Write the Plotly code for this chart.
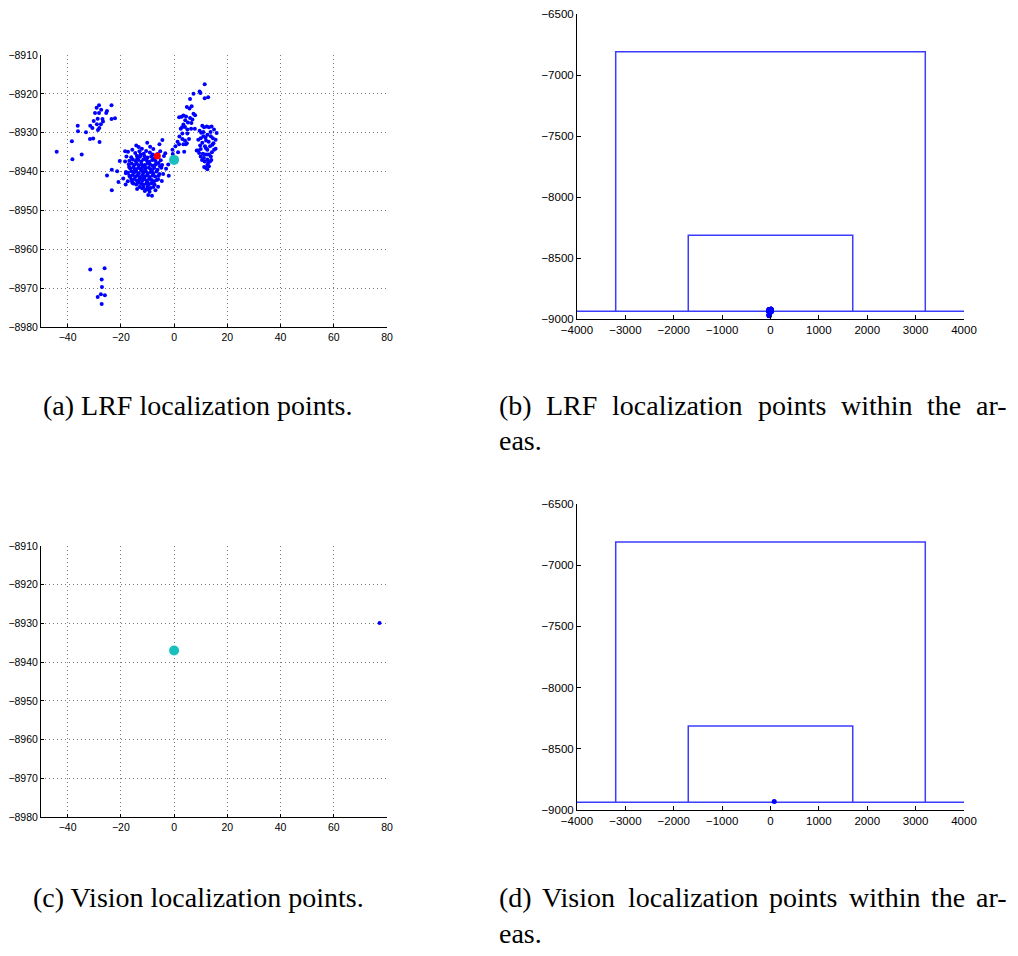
import plotly.graph_objects as go

W, H = 1018, 956
OFF = 8  # page body margin of the browser

# ---------------- data ----------------
# LRF localization points (x, y)
lrf_left = [(-44.1, -8934.9), (-38.4, -8932.2), (-38.2, -8936.8), (-36.2, -8928.2), (-36.1, -8929.6),
            (-34.7, -8935.6), (-33.1, -8929.9), (-31.5, -8928.2), (-31.6, -8931.6), (-30.4, -8931.5),
            (-30.7, -8928.8), (-30.2, -8927.0), (-29.7, -8924.9), (-29.1, -8923.6), (-28.2, -8922.9),
            (-28.7, -8926.4), (-29.0, -8927.8), (-28.1, -8928.8), (-28.2, -8924.9), (-27.4, -8924.1),
            (-26.9, -8926.5), (-26.7, -8927.1), (-27.5, -8927.8), (-28.0, -8932.4), (-25.5, -8924.9),
            (-25.2, -8924.4), (-23.5, -8922.9), (-23.5, -8926.5), (-22.2, -8926.3), (-28.6, -8929.3)]
lrf_bottom = [(-31.5, -8965.2), (-26.1, -8964.9), (-27.2, -8967.8), (-27.1, -8969.7),
              (-28.7, -8972.3), (-27.5, -8971.6), (-26.0, -8971.8), (-27.2, -8974.1)]
lrf_scatter = [(-25.2, -8941.0), (-23.4, -8939.5), (-23.4, -8944.8), (-21.4, -8939.9), (-20.9, -8942.7),
               (-20.4, -8937.3), (-18.4, -8934.8), (-18.1, -8940.4), (-18.2, -8943.3)]
lrf_center = [(-17.3, -8934.9), (-15.7, -8934.4), (-14.2, -8933.3), (-13.3, -8933.7), (-12.1, -8934.1),
              (-10.1, -8932.6), (-9.0, -8933.6), (-7.8, -8934.2), (-5.5, -8933.0), (-4.4, -8931.9),
              (-6.2, -8935.5), (-5.0, -8937.1), (-3.8, -8936.0), (-2.2, -8938.2), (-3.0, -8939.3),
              (-2.0, -8941.1), (-4.1, -8940.6), (-4.6, -8942.4), (-6.5, -8942.2), (-6.0, -8943.9),
              (-7.0, -8944.8), (-8.3, -8946.2), (-9.7, -8946.0), (-10.5, -8944.6), (-12.0, -8944.3),
              (-13.9, -8944.5), (-15.2, -8943.1), (-17.4, -8942.5), (-18.1, -8940.1), (-16.9, -8938.8),
              (-18.4, -8937.4), (-19.1, -8941.8), (-16.5, -8941.4), (-17.9, -8936.1),
              (-14.6, -8935.2), (-13.0, -8934.8), (-11.4, -8935.4), (-10.5, -8934.7), (-9.1, -8935.1),
              (-8.0, -8935.6), (-16.1, -8936.3), (-14.0, -8935.9), (-12.8, -8936.2), (-11.2, -8936.0),
              (-10.0, -8936.4), (-8.6, -8936.1), (-7.4, -8936.6), (-6.8, -8935.9),
              (-16.8, -8937.2), (-15.5, -8936.9), (-14.5, -8937.3), (-13.5, -8937.0), (-12.4, -8937.4),
              (-11.5, -8936.9), (-10.2, -8937.2), (-9.3, -8937.5), (-8.2, -8937.0), (-7.0, -8937.3),
              (-5.8, -8937.8), (-17.0, -8938.1), (-16.0, -8937.9), (-15.0, -8938.3), (-14.0, -8938.0),
              (-13.2, -8938.4), (-12.2, -8938.1), (-11.0, -8938.3), (-10.0, -8937.9), (-9.0, -8938.2),
              (-8.0, -8938.5), (-6.5, -8938.0), (-5.3, -8938.6), (-16.5, -8939.2), (-15.3, -8938.9),
              (-14.5, -8939.4), (-13.5, -8939.1), (-12.5, -8939.3), (-11.8, -8938.8), (-10.8, -8939.2),
              (-9.5, -8939.0), (-8.7, -8939.4), (-7.5, -8939.1), (-6.2, -8939.5), (-4.8, -8939.0),
              (-17.3, -8940.3), (-16.0, -8939.9), (-15.0, -8940.2), (-14.2, -8940.0), (-13.3, -8940.4),
              (-12.4, -8939.8), (-11.5, -8940.2), (-10.6, -8940.0), (-9.8, -8940.4), (-8.8, -8940.1),
              (-7.8, -8940.5), (-6.6, -8940.0), (-5.5, -8940.6), (-16.8, -8941.1), (-15.5, -8940.9),
              (-14.5, -8941.3), (-13.8, -8941.0), (-12.8, -8941.4), (-11.9, -8940.9), (-11.0, -8941.2),
              (-10.1, -8941.0), (-9.1, -8941.4), (-8.0, -8941.0), (-7.1, -8941.3), (-5.8, -8941.1),
              (-16.0, -8942.1), (-15.0, -8941.9), (-14.0, -8942.3), (-13.0, -8942.0), (-12.0, -8942.4),
              (-11.2, -8942.0), (-10.3, -8942.3), (-9.4, -8941.9), (-8.4, -8942.2), (-7.5, -8942.5),
              (-6.0, -8942.0), (-15.5, -8943.0), (-14.2, -8943.3), (-13.2, -8942.9), (-12.3, -8943.2),
              (-11.4, -8943.4), (-10.4, -8943.0), (-9.5, -8943.3), (-8.5, -8943.0), (-7.3, -8943.4),
              (-13.0, -8944.0), (-11.6, -8944.1), (-10.0, -8943.9), (-8.8, -8944.2), (-7.8, -8944.0),
              (-11.0, -8945.0), (-9.2, -8945.2), (-13.8, -8936.6), (-12.0, -8939.7), (-10.9, -8938.8),
              (-9.9, -8942.8), (-11.7, -8941.7), (-13.6, -8942.7), (-14.8, -8939.7), (-8.3, -8939.8),
              (-10.4, -8936.6), (-12.6, -8935.6), (-9.6, -8944.6), (-15.8, -8942.6), (-7.2, -8938.3),
              (-4.5, -8938.3), (-3.3, -8935.3), (-5.2, -8934.8)]
lrf_right_upper = [(11.5, -8917.5), (9.6, -8919.4), (9.9, -8919.8), (7.3, -8920.0), (12.8, -8920.9),
                   (11.5, -8921.1), (6.0, -8921.3), (4.8, -8923.4), (5.8, -8923.8), (6.6, -8923.2),
                   (7.3, -8925.1), (7.9, -8925.5), (1.9, -8926.0), (3.5, -8925.6), (4.5, -8925.8),
                   (6.0, -8926.2), (6.9, -8926.6), (3.5, -8927.9), (4.1, -8928.5), (5.0, -8929.2),
                   (6.4, -8929.0), (7.8, -8929.0), (3.1, -8930.2), (5.0, -8930.2), (5.6, -8931.6),
                   (3.1, -8931.6), (4.1, -8932.0), (4.8, -8932.7), (1.3, -8932.3), (3.5, -8933.0),
                   (4.4, -8933.0), (3.8, -8934.9), (1.9, -8933.0), (-0.6, -8934.4), (2.5, -8929.0),
                   (3.0, -8928.6), (2.0, -8931.0), (6.5, -8927.5), (4.2, -8926.8), (2.8, -8925.9),
                   (5.2, -8927.4), (1.5, -8935.0), (-0.5, -8935.5), (0.5, -8933.5)]
lrf_right_lower = [(10.6, -8928.2), (11.3, -8928.6), (12.3, -8928.4), (13.1, -8928.6), (14.1, -8928.4),
                   (15.0, -8929.2), (16.0, -8930.1), (15.6, -8931.8), (14.6, -8931.4), (13.8, -8930.9),
                   (12.5, -8930.5), (11.0, -8930.9), (10.0, -8931.4), (9.1, -8931.8), (9.8, -8933.3),
                   (10.6, -8932.6), (11.6, -8933.5), (12.5, -8934.4), (13.5, -8933.5), (14.4, -8933.1),
                   (15.0, -8934.4), (15.6, -8934.1), (10.0, -8934.2), (9.0, -8934.6), (9.4, -8935.2),
                   (10.8, -8935.4), (11.5, -8935.6), (12.3, -8935.6), (13.1, -8935.6), (13.8, -8936.1),
                   (12.5, -8936.9), (11.5, -8937.4), (13.5, -8937.4), (12.5, -8938.3), (13.1, -8938.6),
                   (11.3, -8938.8), (12.5, -8939.4), (10.0, -8936.1), (8.5, -8934.6), (11.0, -8929.8),
                   (12.0, -8932.0), (13.0, -8932.3), (14.2, -8935.0), (10.5, -8937.0), (11.8, -8931.2),
                   (13.7, -8929.8), (14.8, -8932.7), (12.0, -8934.0), (10.2, -8930.0), (11.2, -8936.5),
                   (14.0, -8937.0), (12.8, -8937.7), (9.6, -8929.5), (11.8, -8939.0)]

lrf_points = lrf_left + lrf_bottom + lrf_scatter + lrf_center + lrf_right_upper + lrf_right_lower
lrf_x = [p[0] for p in lrf_points]
lrf_y = [p[1] for p in lrf_points]

lrf_estimate_x = [-6.3]
lrf_estimate_y = [-8936.0]
true_x = [0.0]
true_y = [-8937.0]

vision_x = [77.2]
vision_y = [-8929.9]

# areas: (x_min, x_max, y_top) with common floor
floor_y = -8937
floor_x = [-4000, 4000]
big_area = (-3200, 3200, -6810)
small_area = (-1700, 1700, -8313)

caption_a = "(a) LRF localization points."
caption_c = "(c) Vision localization points."
caption_b_words = ["(b)", "LRF", "localization", "points", "within", "the", "ar-"]
caption_d_words = ["(d)", "Vision", "localization", "points", "within", "the", "ar-"]
caption_cont = "eas."

# ---------------- layout helpers ----------------
def dom_x(a, b):
    return [(a - OFF) / W, (b - OFF) / W]

def dom_y(top, bottom):
    return [(H - (bottom - OFF)) / H, (H - (top - OFF)) / H]

def px_x(x):
    return (x - OFF) / W

def px_y(y):
    return (H - (y - OFF)) / H

BLUE = "#0000ff"
CYAN = "#18bfbf"
LINE = "#3c3cff"

fig = go.Figure()

# panel a
fig.add_trace(go.Scatter(x=lrf_x, y=lrf_y, mode="markers", xaxis="x", yaxis="y",
                         marker=dict(color=BLUE, size=4, line=dict(width=0)), showlegend=False))
fig.add_trace(go.Scatter(x=lrf_estimate_x, y=lrf_estimate_y, mode="markers", xaxis="x", yaxis="y",
                         marker=dict(color="#ff0000", size=7, line=dict(width=0)), showlegend=False))
fig.add_trace(go.Scatter(x=true_x, y=true_y, mode="markers", xaxis="x", yaxis="y",
                         marker=dict(color=CYAN, size=10, line=dict(width=0)), showlegend=False))

# panel c
fig.add_trace(go.Scatter(x=vision_x, y=vision_y, mode="markers", xaxis="x3", yaxis="y3",
                         marker=dict(color=BLUE, size=4, line=dict(width=0)), showlegend=False))
fig.add_trace(go.Scatter(x=true_x, y=true_y, mode="markers", xaxis="x3", yaxis="y3",
                         marker=dict(color=CYAN, size=10, line=dict(width=0)), showlegend=False))

# panels b and d: areas
for xa, ya, px, py in [("x2", "y2", lrf_x, lrf_y), ("x4", "y4", vision_x, vision_y)]:
    for (x0, x1, yt) in [big_area, small_area]:
        fig.add_trace(go.Scatter(x=[x0, x0, x1, x1], y=[floor_y, yt, yt, floor_y], mode="lines",
                                 xaxis=xa, yaxis=ya, line=dict(color=LINE, width=1.5),
                                 showlegend=False, cliponaxis=False))
    fig.add_trace(go.Scatter(x=floor_x, y=[floor_y, floor_y], mode="lines", xaxis=xa, yaxis=ya,
                             line=dict(color=LINE, width=1.5), showlegend=False, cliponaxis=False))
    fig.add_trace(go.Scatter(x=px, y=py, mode="markers", xaxis=xa, yaxis=ya,
                             marker=dict(color=BLUE, size=5, line=dict(width=0)), showlegend=False))

tickfont_small = dict(family="Liberation Sans, Arial, sans-serif", size=10.5, color="black")
tickfont_big = dict(family="Liberation Sans, Arial, sans-serif", size=11.5, color="black")
GRID = "#7a7a7a"
GDASH = "1px,3px"

def grid_axes(xd, yd, ya_name):
    return dict(domain=xd, range=[-50, 80], tick0=0, dtick=20, showgrid=True, gridcolor=GRID,
                griddash=GDASH, gridwidth=1, zeroline=False, showline=True, linecolor="black",
                linewidth=1, ticks="inside", ticklen=3, tickcolor="black", tickfont=tickfont_small,
                anchor=ya_name, fixedrange=True, automargin=False)

def grid_yaxis(yd, xa_name):
    return dict(domain=yd, range=[-8980, -8910], tick0=-8980, dtick=10, showgrid=True,
                gridcolor=GRID, griddash=GDASH, gridwidth=1, zeroline=False, showline=True,
                linecolor="black", linewidth=1, ticks="inside", ticklen=3, tickcolor="black",
                tickfont=tickfont_small, anchor=xa_name, fixedrange=True, automargin=False)

def area_xaxis(xd, ya_name):
    return dict(domain=xd, range=[-4000, 4000], tick0=0, dtick=1000, showgrid=False, zeroline=False,
                showline=True, linecolor="black", linewidth=1, ticks="inside", ticklen=4,
                tickcolor="black", tickfont=tickfont_big, anchor=ya_name, fixedrange=True,
                automargin=False)

def area_yaxis(yd, xa_name):
    return dict(domain=yd, range=[-9000, -6500], tick0=-9000, dtick=500, showgrid=False,
                zeroline=False, showline=True, linecolor="black", linewidth=1, ticks="inside",
                ticklen=4, tickcolor="black", tickfont=tickfont_big, anchor=xa_name, fixedrange=True,
                automargin=False)

fig.update_layout(
    width=W, height=H, margin=dict(l=0, r=0, t=0, b=0, autoexpand=False),
    paper_bgcolor="white", plot_bgcolor="white",
    xaxis=grid_axes(dom_x(41, 387), dom_y(55, 327), "y"),
    yaxis=grid_yaxis(dom_y(55, 327), "x"),
    xaxis3=grid_axes(dom_x(41, 387), dom_y(546, 817), "y3"),
    yaxis3=grid_yaxis(dom_y(546, 817), "x3"),
    xaxis2=area_xaxis(dom_x(577, 964), "y2"),
    yaxis2=area_yaxis(dom_y(14, 319), "x2"),
    xaxis4=area_xaxis(dom_x(577, 964), "y4"),
    yaxis4=area_yaxis(dom_y(504, 810), "x4"),
)

cap_font = dict(family="Liberation Serif, Times New Roman, serif", size=28, color="black")

def caption(text, x, y, anchor="left"):
    fig.add_annotation(text=text, x=px_x(x), y=px_y(y), xref="paper", yref="paper",
                       xanchor=anchor, yanchor="middle", showarrow=False, font=cap_font)

caption(caption_a, 198, 405, "center")
caption(caption_c, 198, 897, "center")
# justified first lines (word starts)
b_starts = [497, 544, 610, 756, 839, 925, 974]
d_starts = [497, 540, 626, 767, 847, 929, 974]
for w, sx in zip(caption_b_words, b_starts):
    caption(w, sx, 405)
for w, sx in zip(caption_d_words, d_starts):
    caption(w, sx, 897)
caption(caption_cont, 497, 441)
caption(caption_cont, 497, 933)

fig.write_html("out.html")
